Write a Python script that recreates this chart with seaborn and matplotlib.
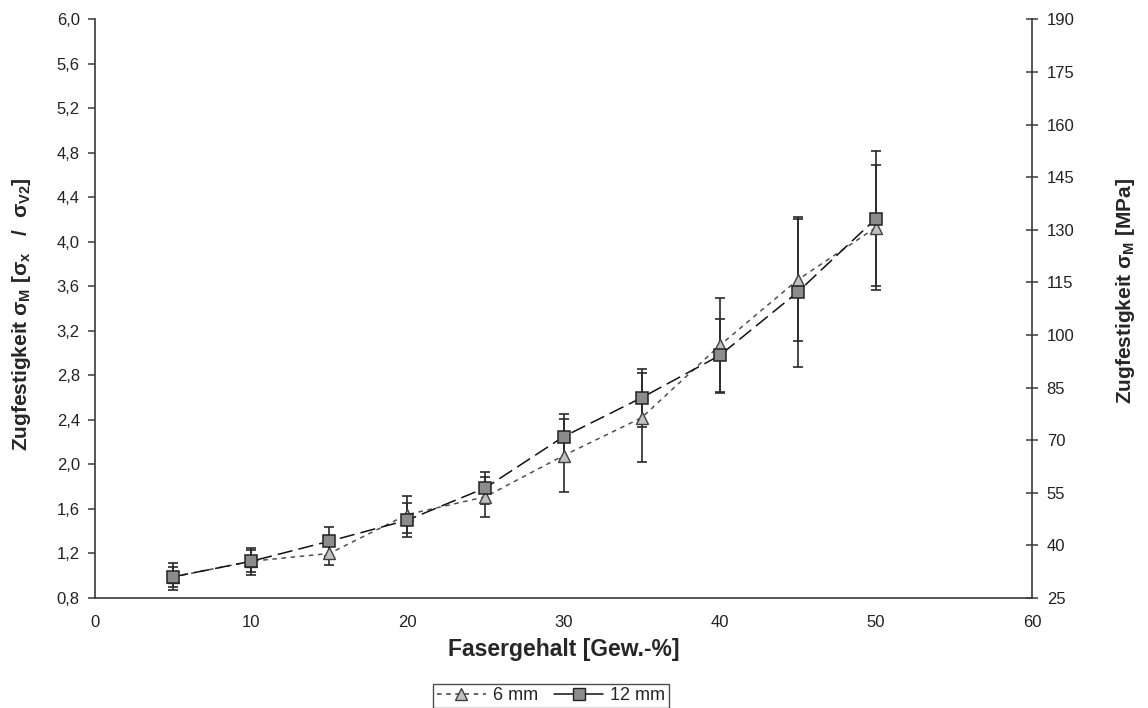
import matplotlib
matplotlib.use("Agg")
import matplotlib.pyplot as plt
import matplotlib.ticker as mticker
from matplotlib.lines import Line2D
import seaborn as sns

# Fibre content [wt-%]
fibre_content = [5, 10, 15, 20, 25, 30, 35, 40, 45, 50]

# Relative tensile strength, 6 mm fibres (mean and standard deviation)
strength_6mm = [0.99, 1.13, 1.20, 1.55, 1.71, 2.08, 2.42, 3.07, 3.66, 4.13]
err_6mm = [0.09, 0.10, 0.10, 0.17, 0.18, 0.33, 0.40, 0.43, 0.55, 0.56]

# Relative tensile strength, 12 mm fibres (mean and standard deviation)
strength_12mm = [0.99, 1.13, 1.31, 1.50, 1.79, 2.25, 2.60, 2.98, 3.55, 4.21]
err_12mm = [0.12, 0.12, 0.13, 0.15, 0.145, 0.20, 0.26, 0.33, 0.67, 0.61]

series_labels = ["6 mm", "12 mm"]
left_ticks = [0.8, 1.2, 1.6, 2.0, 2.4, 2.8, 3.2, 3.6, 4.0, 4.4, 4.8, 5.2, 5.6, 6.0]
right_ticks = list(range(25, 191, 15))
x_ticks = list(range(0, 61, 10))

sns.set_theme(style="white")
plt.rcParams["font.family"] = ["Liberation Sans", "DejaVu Sans"]
plt.rcParams["mathtext.fontset"] = "custom"
plt.rcParams["mathtext.rm"] = "Liberation Sans:bold"
plt.rcParams["mathtext.it"] = "Liberation Sans:bold"
plt.rcParams["mathtext.bf"] = "Liberation Sans:bold"

fig = plt.figure(figsize=(11.48, 7.08), dpi=100)
ax = fig.add_axes([0.0828, 0.1554, 0.8162, 0.8171])

axis_color = "#3a3a3a"
tick_size = 12

# error bars
ax.errorbar(fibre_content, strength_6mm, yerr=err_6mm, fmt="none",
            ecolor="#2a2a2a", elinewidth=1.2, capsize=3.5, capthick=1.2, zorder=2)
ax.errorbar(fibre_content, strength_12mm, yerr=err_12mm, fmt="none",
            ecolor="#2a2a2a", elinewidth=1.2, capsize=3.5, capthick=1.2, zorder=2)

# series lines with markers
sns.lineplot(x=fibre_content, y=strength_6mm, ax=ax, color="#505050",
             linewidth=1.1, linestyle=(0, (3, 3)), marker="^", markersize=8,
             markerfacecolor="#c0c0c0", markeredgecolor="#404040",
             markeredgewidth=1.0, zorder=3)
sns.lineplot(x=fibre_content, y=strength_12mm, ax=ax, color="#111111",
             linewidth=1.1, linestyle=(0, (10, 4)), marker="s", markersize=8,
             markerfacecolor="#8c8c8c", markeredgecolor="#222222",
             markeredgewidth=1.1, zorder=4)

ax.set_xlim(0, 60)
ax.set_ylim(0.8, 6.0)
ax.set_xticks(x_ticks)
ax.set_yticks(left_ticks)
ax.yaxis.set_major_formatter(mticker.FuncFormatter(lambda v, p: f"{v:.1f}".replace(".", ",")))

for side in ["top", "right"]:
    ax.spines[side].set_visible(False)
for side in ["left", "bottom"]:
    ax.spines[side].set_color(axis_color)
    ax.spines[side].set_linewidth(1.2)
ax.tick_params(axis="both", direction="out", length=5, width=1.1,
               color=axis_color, labelsize=tick_size, labelcolor="#222222", pad=6)
ax.tick_params(axis="x", pad=7)

ax.set_xlabel("Fasergehalt [Gew.-%]", fontsize=16.5, fontweight="bold", labelpad=6)
ax.set_ylabel(r"Zugfestigkeit $\sigma_{M}$ [$\sigma_{x}$   /  $\sigma_{V2}$]",
              fontsize=15, fontweight="bold")
ax.yaxis.set_label_coords(-0.066, 0.49)

# secondary axis in MPa
ax2 = ax.twinx()
ax2.set_ylim(25, 190)
ax2.set_yticks(right_ticks)
for side in ["top", "left", "bottom"]:
    ax2.spines[side].set_visible(False)
ax2.spines["right"].set_color(axis_color)
ax2.spines["right"].set_linewidth(1.2)
ax2.tick_params(axis="y", direction="inout", length=9, width=1.1,
                color=axis_color, labelsize=tick_size, labelcolor="#222222", pad=6)
ax2.set_ylabel(r"Zugfestigkeit $\sigma_{M}$ [MPa]", fontsize=15,
               fontweight="bold")
ax2.yaxis.set_label_coords(1.087, 0.53)
ax2.grid(False)
ax.grid(False)

handles = [
    Line2D([], [], color="#404040", linewidth=1.1, linestyle=(0, (3, 3)),
           marker="^", markersize=8, markerfacecolor="#c0c0c0",
           markeredgecolor="#404040"),
    Line2D([], [], color="#111111", linewidth=1.1, linestyle="-",
           marker="s", markersize=8, markerfacecolor="#8c8c8c",
           markeredgecolor="#222222"),
]
leg = fig.legend(handles, series_labels, loc="lower center",
                 bbox_to_anchor=(0.48, 0.0), ncol=2, frameon=True,
                 fancybox=False, edgecolor="#222222", fontsize=13,
                 handlelength=2.7, handletextpad=0.4, columnspacing=0.9,
                 borderpad=0.2, borderaxespad=0.0)
leg.get_frame().set_linewidth(1.0)

fig.savefig("out.png", dpi=100)
